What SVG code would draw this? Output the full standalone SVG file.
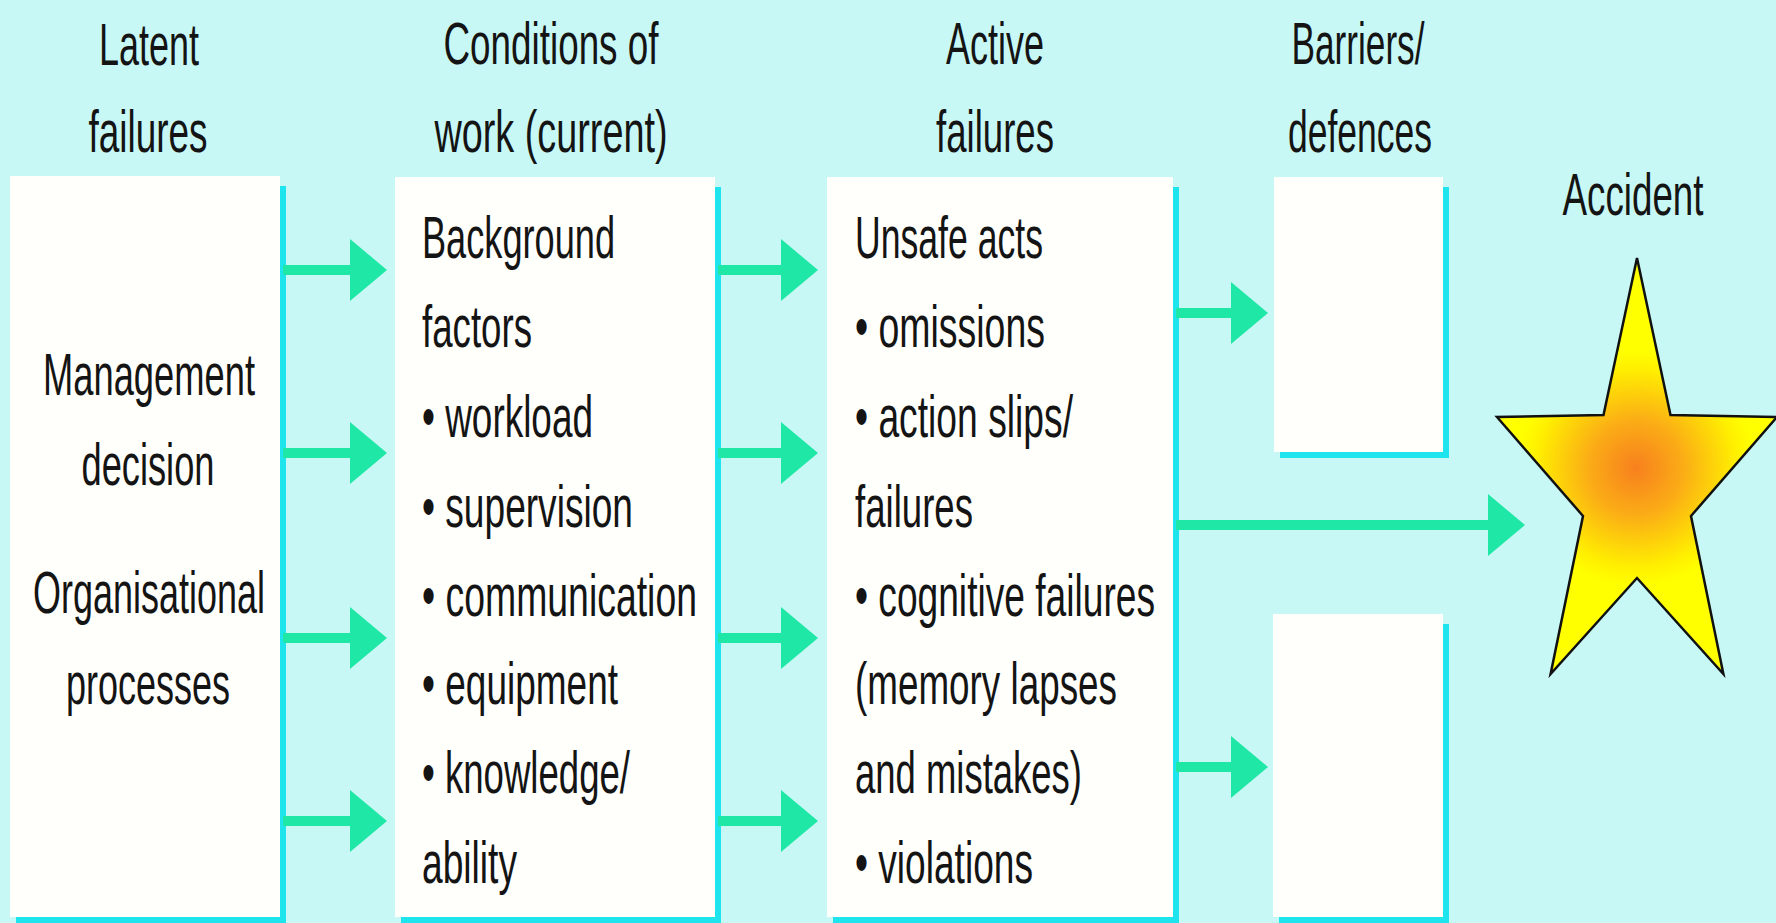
<svg xmlns="http://www.w3.org/2000/svg" width="1776" height="923" viewBox="0 0 1776 923">
<style>
.bg{fill:#c8f8f6}
.box{fill:#fffffb}
.sh{fill:#1ee4ee}
.t{font-family:"Liberation Sans Narrow","Liberation Sans",Arial,sans-serif;font-size:59px;fill:#141414}
.c{text-anchor:middle}
.ar{stroke:#1fe8a6;stroke-width:10;fill:none;marker-end:url(#ah)}
.star{fill:url(#sg);stroke:#111;stroke-width:2.5;stroke-linejoin:miter}
</style>
<defs>
<marker id="ah" markerUnits="userSpaceOnUse" markerWidth="38" markerHeight="62" refX="5" refY="31" orient="auto" viewBox="0 0 38 62">
<path d="M0,0 L37,31 L0,62 Z" fill="#1fe8a6"/>
</marker>
<radialGradient id="sg" gradientUnits="userSpaceOnUse" cx="1636" cy="468" r="118">
<stop offset="0" stop-color="#f7801e"/>
<stop offset="0.4" stop-color="#fbac16"/>
<stop offset="0.85" stop-color="#fff000"/>
<stop offset="1" stop-color="#ffff00"/>
</radialGradient>
</defs>
<rect class="bg" x="0" y="0" width="1776" height="923"/>

<g id="header-latent">
<text class="t c" x="149" y="65" textLength="100" lengthAdjust="spacingAndGlyphs">Latent</text>
<text class="t c" x="148" y="152" textLength="119" lengthAdjust="spacingAndGlyphs">failures</text>
</g>
<g id="header-conditions">
<text class="t c" x="551" y="64" textLength="215" lengthAdjust="spacingAndGlyphs">Conditions of</text>
<text class="t c" x="551" y="152" textLength="233" lengthAdjust="spacingAndGlyphs">work (current)</text>
</g>
<g id="header-active">
<text class="t c" x="995" y="64" textLength="98" lengthAdjust="spacingAndGlyphs">Active</text>
<text class="t c" x="995" y="152" textLength="118" lengthAdjust="spacingAndGlyphs">failures</text>
</g>
<g id="header-barriers">
<text class="t c" x="1358" y="64" textLength="133" lengthAdjust="spacingAndGlyphs">Barriers/</text>
<text class="t c" x="1360" y="152" textLength="144" lengthAdjust="spacingAndGlyphs">defences</text>
</g>

<g id="latent-box">
<rect class="sh" x="16" y="186" width="270" height="741"/>
<rect class="box" x="10" y="176" width="270" height="741"/>
<text class="t c" x="149" y="395" textLength="212" lengthAdjust="spacingAndGlyphs">Management</text>
<text class="t c" x="148" y="485" textLength="133" lengthAdjust="spacingAndGlyphs">decision</text>
<text class="t c" x="149" y="613" textLength="232" lengthAdjust="spacingAndGlyphs">Organisational</text>
<text class="t c" x="148" y="704" textLength="164" lengthAdjust="spacingAndGlyphs">processes</text>
</g>

<g id="conditions-box">
<rect class="sh" x="401" y="187" width="320" height="740"/>
<rect class="box" x="395" y="177" width="320" height="740"/>
<text class="t" x="422" y="258" textLength="193" lengthAdjust="spacingAndGlyphs">Background</text>
<text class="t" x="422" y="347" textLength="110" lengthAdjust="spacingAndGlyphs">factors</text>
<text class="t" x="422" y="437" textLength="171" lengthAdjust="spacingAndGlyphs">• workload</text>
<text class="t" x="422" y="527" textLength="211" lengthAdjust="spacingAndGlyphs">• supervision</text>
<text class="t" x="422" y="616" textLength="275" lengthAdjust="spacingAndGlyphs">• communication</text>
<text class="t" x="422" y="704" textLength="196" lengthAdjust="spacingAndGlyphs">• equipment</text>
<text class="t" x="422" y="793" textLength="208" lengthAdjust="spacingAndGlyphs">• knowledge/</text>
<text class="t" x="422" y="883" textLength="95" lengthAdjust="spacingAndGlyphs">ability</text>
</g>

<g id="active-box">
<rect class="sh" x="833" y="187" width="346" height="740"/>
<rect class="box" x="827" y="177" width="346" height="740"/>
<text class="t" x="855" y="258" textLength="188" lengthAdjust="spacingAndGlyphs">Unsafe acts</text>
<text class="t" x="855" y="347" textLength="190" lengthAdjust="spacingAndGlyphs">• omissions</text>
<text class="t" x="855" y="437" textLength="218" lengthAdjust="spacingAndGlyphs">• action slips/</text>
<text class="t" x="855" y="527" textLength="118" lengthAdjust="spacingAndGlyphs">failures</text>
<text class="t" x="855" y="616" textLength="300" lengthAdjust="spacingAndGlyphs">• cognitive failures</text>
<text class="t" x="855" y="704" textLength="262" lengthAdjust="spacingAndGlyphs">(memory lapses</text>
<text class="t" x="855" y="793" textLength="227" lengthAdjust="spacingAndGlyphs">and mistakes)</text>
<text class="t" x="855" y="883" textLength="178" lengthAdjust="spacingAndGlyphs">• violations</text>
</g>

<g id="barrier-top">
<rect class="sh" x="1280" y="187" width="169" height="271"/>
<rect class="box" x="1274" y="177" width="169" height="275"/>
</g>

<g id="barrier-bottom">
<rect class="sh" x="1279" y="624" width="170" height="303"/>
<rect class="box" x="1273" y="614" width="170" height="303"/>
</g>

<g id="accident">
<text class="t c" x="1633" y="215" textLength="141" lengthAdjust="spacingAndGlyphs">Accident</text>
<polygon class="star" points="1637,258 1670.5,415 1777,417 1691,516 1723.4,674 1637,578 1550.6,674 1583,516 1497,417 1603.5,415"/>
</g>

<g id="connectors">
<line class="ar" x1="283" y1="270" x2="355" y2="270"/>
<line class="ar" x1="283" y1="453" x2="355" y2="453"/>
<line class="ar" x1="283" y1="638" x2="355" y2="638"/>
<line class="ar" x1="283" y1="821" x2="355" y2="821"/>
<line class="ar" x1="718" y1="270" x2="786" y2="270"/>
<line class="ar" x1="718" y1="453" x2="786" y2="453"/>
<line class="ar" x1="718" y1="638" x2="786" y2="638"/>
<line class="ar" x1="718" y1="821" x2="786" y2="821"/>
<line class="ar" x1="1176" y1="313" x2="1236" y2="313"/>
<line class="ar" x1="1176" y1="525" x2="1493" y2="525"/>
<line class="ar" x1="1176" y1="767" x2="1236" y2="767"/>
</g>
</svg>
